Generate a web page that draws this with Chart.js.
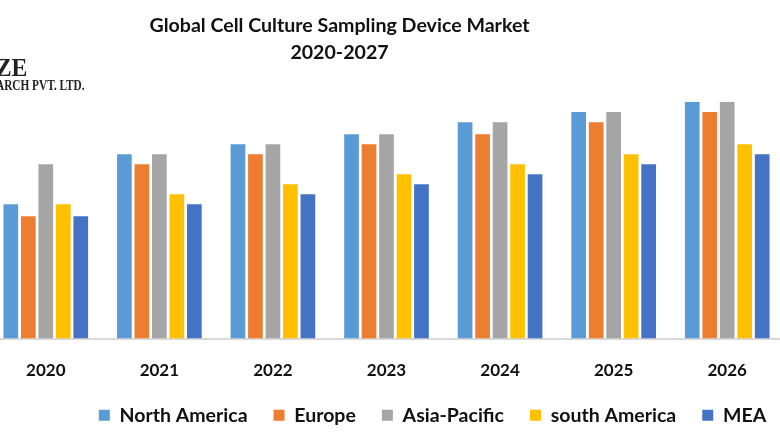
<!DOCTYPE html>
<html>
<head>
<meta charset="utf-8">
<title>Global Cell Culture Sampling Device Market</title>
<script src="https://cdn.jsdelivr.net/npm/chart.js@4.4.1/dist/chart.umd.min.js"></script>
<style>
	html, body { margin: 0; padding: 0; background: #fff; overflow: hidden; }
	#wrap { position: relative; width: 780px; height: 440px; overflow: hidden; }
	#chart-box { position: absolute; left: -11px; top: 0; width: 795px; height: 440px; }
	.logo { position: absolute; font-family: "Liberation Serif", serif; font-weight: bold; color: #222; white-space: nowrap; transform-origin: right center; }
	#logo-big { right: 753px; top: 55px; font-size: 25px; line-height: 26px; transform: scaleX(0.95); }
	#logo-small { right: 695px; top: 78px; font-size: 14.5px; line-height: 14px; transform: scaleX(0.78); }
</style>
</head>
<body>
<div id="wrap">
	<div id="chart-box"><canvas id="market-chart"></canvas></div>
	<div class="logo" id="logo-big">ZE</div>
	<div class="logo" id="logo-small">ARCH PVT. LTD.</div>
</div>
<script>
const years = ['2020', '2021', '2022', '2023', '2024', '2025', '2026'];
const titleLines = ['Global Cell Culture Sampling Device Market', '2020-2027'];

// Values, no axis in the picture so units are relative
const northAmerica = [13.4, 18.4, 19.4, 20.4, 21.6, 22.6, 23.6];
const europe = [12.2, 17.4, 18.4, 19.4, 20.4, 21.6, 22.6];
const asiaPacific = [17.4, 18.4, 19.4, 20.4, 21.6, 22.6, 23.6];
const southAmerica = [13.4, 14.4, 15.4, 16.4, 17.4, 18.4, 19.4];
const mea = [12.2, 13.4, 14.4, 15.4, 16.4, 17.4, 18.4];

const FONT = 'Lato, "Open Sans", sans-serif';

// Title and legend sit off centre in the original, so nudge them after layout
const shiftBoxes = {
	id: 'shiftBoxes',
	afterLayout(chart) {
		chart.titleBlock.left -= 47;
		chart.titleBlock.right -= 47;
		chart.legend.left += 46;
		chart.legend.right += 46;
	}
};

function series(label, data, color) {
	return {
		label: label,
		data: data,
		backgroundColor: color,
		categoryPercentage: 0.77,
		barPercentage: 0.84
	};
}

new Chart(document.getElementById('market-chart'), {
	type: 'bar',
	data: {
		labels: years,
		datasets: [
			series('North America', northAmerica, '#5B9BD5'),
			series('Europe', europe, '#ED7D31'),
			series('Asia-Pacific', asiaPacific, '#A5A5A5'),
			series('south America', southAmerica, '#FFC000'),
			series('MEA', mea, '#4472C4')
		]
	},
	plugins: [shiftBoxes],
	options: {
		responsive: true,
		maintainAspectRatio: false,
		animation: false,
		layout: { padding: { bottom: 5 } },
		plugins: {
			title: {
				display: true,
				text: titleLines,
				color: '#111',
				font: { family: FONT, size: 19.6, weight: 'bold', lineHeight: 1.38 },
				padding: { top: 12, bottom: 32 }
			},
			legend: {
				position: 'bottom',
				labels: {
					color: '#111',
					boxWidth: 11,
					boxHeight: 11,
					padding: 26,
					font: { family: FONT, size: 19.5, weight: 'bold' }
				}
			},
			tooltip: { enabled: false }
		},
		scales: {
			x: {
				grid: { display: false },
				border: { color: '#D9D9D9', width: 2 },
				ticks: {
					color: '#111',
					padding: 14,
					font: { family: FONT, size: 17, weight: 'bold' }
				},
				// tick labels get clipped to this box, so it has to reach past them
				afterFit(scale) {
					scale.height = 41;
				}
			},
			y: {
				display: false,
				min: 0,
				max: 24
			}
		}
	}
});
</script>
</body>
</html>
